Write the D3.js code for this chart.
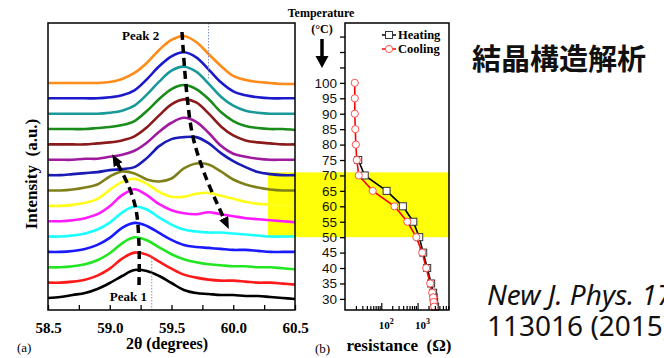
<!DOCTYPE html>
<html>
<head>
<meta charset="utf-8">
<script src="https://cdn.jsdelivr.net/npm/d3@7"></script>
<style>
  body { margin: 0; background: #fff; }
  svg { display: block; }
</style>
</head>
<body>
<div id="plot"></div>
<script>
// (a) XRD scans, one per temperature, 2θ from 58.5 to 60.5 in steps of 0.1
const twoTheta = [58.5,58.6,58.7,58.8,58.9,59.0,59.1,59.2,59.3,59.4,59.5,59.6,59.7,59.8,59.9,60.0,60.1,60.2,60.3,60.4,60.5];
const temps = [30,35,40,45,50,55,60,65,70,75,80,85,90,95,100];
const int30  = [0,1,3,5,9,15,22,28,27,22,15,8,5,4,3,3,2,2,1,0,-1];
const int35  = [0,0,1,3,7,14,24,30,28,21,14,8,5,3,2,2,1,0,0,-1,-2];
const int40  = [0,0,1,3,7,14,24,30,27,20,13,8,5,3,2,1,1,0,0,-1,-2];
const int45  = [0,0,1,3,7,14,24,29,26,19,12,7,5,4,3,2,2,1,0,0,0];
const int50  = [0,0,1,3,7,14,24,30,27,19,12,7,5,4,4,3,2,1,0,0,0];
const int55  = [0,0,1,3,7,15,26,32,26,17,11,8,7,9,7,5,3,2,1,0,-1];
const int60  = [0,0,1,3,7,16,24,27,22,14,9,9,12,13,10,7,4,2,1,0,0];
const int65  = [0,0,1,3,6,14,19,17,11,9,12,22,27,26,19,11,6,3,1,0,0];
const int70  = [0,0,1,2,3,5,6,8,17,29,36,38,38,32,22,14,8,3,1,0,0];
const int75  = [0,0,0,1,1,3,5,9,17,28,37,42,38,27,14,6,3,1,0,0,0];
const int80  = [0,0,0,0,1,2,4,8,17,29,40,45,42,31,18,9,4,2,1,0,0];
const int85  = [0,0,0,0,1,2,4,8,18,30,40,44,40,30,17,8,3,1,0,0,-1];
const int90  = [0,0,0,0,0,1,3,8,19,32,43,47,42,30,17,8,3,1,0,0,0];
const int95  = [0,0,0,0,0,1,3,8,19,32,42,46,41,29,16,7,3,1,0,0,0];
const int100 = [0,0,0,0,0,1,4,10,20,33,43,47,41,29,17,7,3,1,0,-1,-1];
const scans = [int30,int35,int40,int45,int50,int55,int60,int65,int70,int75,int80,int85,int90,int95,int100];
const scanColors = ["#000000","#ff1a1a","#22e622","#1a1aff","#1affff","#ff1aff","#ffff1a","#80801a",
                    "#1a1ab4","#a01aa0","#8b1a1a","#1a8c1a","#1a9999","#1a1acc","#ff8c1a"];

// peak-shift guides (2θ, a.u.)
const peak1Guide = [[59.237,25],[59.237,65],[59.213,100],[59.156,123],[59.06,147]];
const peak2Guide = [[59.585,278],[59.625,215],[59.674,173],[59.771,135],[59.93,90]];

// (b) resistance vs temperature
const heatT = [27.5,29,30.5,32,35,40,45,50,55,60,65,70,75];
const heatR = [3050,2870,2780,2690,2368,1842,1430,1112,764,394,140,35,23.2];
const coolT = [100,95,90,85,80,75,70,65,60,55,50,45,40,35,32,30.5,29,27.5];
const coolR = [18.6,18.6,18.6,19.2,19.9,21.1,24,58,231,523,921,1343,1730,2224,2525,2690,2780,2870];

const xTickLabels = ["58.5","59.0","59.5","60.0","60.5"];
const xMinorTicks = [58.75,59.25,59.75,60.25];
const tempTicks = [30,35,40,45,50,55,60,65,70,75,80,85,90,95,100,105,110,115];
const tempLabels = [30,35,40,45,50,55,60,65,70,75,80,85,90,95,100];
const rMajor = [100,1000];
const rMinor = [20,30,40,50,60,70,80,90,200,300,400,500,600,700,800,900,2000,3000,4000,5000,6000,7000];
const band = [50,71];

const width = 664, height = 358;
const serif = "'Liberation Serif','Times New Roman',serif";
const sans = "'Liberation Sans',Arial,sans-serif";

const svg = d3.select("#plot").append("svg")
  .attr("width", width)
  .attr("height", height);

const defs = svg.append("defs");
defs.append("marker")
  .attr("id", "head")
  .attr("markerUnits", "userSpaceOnUse")
  .attr("markerWidth", 14).attr("markerHeight", 12)
  .attr("refX", 2).attr("refY", 5)
  .attr("orient", "auto")
  .append("path").attr("d", "M0,0 L12,5 L0,10 Z").attr("fill", "#000");
defs.append("marker")
  .attr("id", "bighead")
  .attr("markerUnits", "userSpaceOnUse")
  .attr("markerWidth", 14).attr("markerHeight", 14)
  .attr("refX", 1).attr("refY", 6.5)
  .attr("orient", "auto")
  .append("path").attr("d", "M0,0 L12,6.5 L0,13 Z").attr("fill", "#000");
defs.append("clipPath").attr("id", "clipA")
  .append("rect").attr("x", 48).attr("y", 23).attr("width", 247).attr("height", 287);

// scales
const xA = d3.scaleLinear().domain([58.5, 60.5]).range([48, 295]);
const yA = d3.scaleLinear().domain([0, 287]).range([310, 23]);
const yT = d3.scaleLinear().domain([26.4, 119.4]).range([310, 23]);
const xR = d3.scaleLog().domain([10, 7350]).range([345, 449]);

// yellow transition band
svg.append("rect")
  .attr("x", xA(60.28))
  .attr("y", yT(band[1]))
  .attr("width", xR.range()[1] - xA(60.28))
  .attr("height", yT(band[0]) - yT(band[1]))
  .attr("fill", "#ffff0a");

// ---- panel (a)
const offset = i => 12 + i * 15.36;
const gA = svg.append("g").attr("clip-path", "url(#clipA)");

gA.selectAll("path.scan")
  .data(scans)
  .join("path")
  .attr("class", "scan")
  .attr("fill", "none")
  .attr("stroke", (d, i) => scanColors[i])
  .attr("stroke-width", 2.6)
  .attr("d", (d, i) => d3.line()
    .x((v, j) => xA(twoTheta[j]))
    .y(v => yA(v + offset(i)))
    .curve(d3.curveCatmullRom.alpha(0.5))(d));

// dotted reference lines
gA.append("line")
  .attr("x1", xA(59.80)).attr("x2", xA(59.80))
  .attr("y1", yA(287)).attr("y2", yA(230))
  .attr("stroke", "#8890b8").attr("stroke-width", 1).attr("stroke-dasharray", "1.5,1.5");
gA.append("line")
  .attr("x1", xA(59.34)).attr("x2", xA(59.34))
  .attr("y1", yA(55)).attr("y2", yA(0))
  .attr("stroke", "#8890b8").attr("stroke-width", 1).attr("stroke-dasharray", "1.5,1.5");

const guide = d3.line()
  .x(d => xA(d[0]))
  .y(d => yA(d[1]))
  .curve(d3.curveCatmullRom.alpha(0.5));

[peak1Guide, peak2Guide].forEach(p => {
  svg.append("path")
    .attr("d", guide(p))
    .attr("fill", "none")
    .attr("stroke", "#000")
    .attr("stroke-width", 3.5)
    .attr("stroke-dasharray", "8,5")
    .attr("marker-end", "url(#head)");
});

svg.append("text")
  .attr("x", xA(59.1)).attr("y", yA(270))
  .attr("font-family", serif).attr("font-weight", "bold").attr("font-size", 13)
  .text("Peak 2");
svg.append("text")
  .attr("x", xA(59.0)).attr("y", yA(9))
  .attr("font-family", serif).attr("font-weight", "bold").attr("font-size", 13)
  .text("Peak 1");

// frame and axis (a)
svg.append("rect")
  .attr("x", 48).attr("y", 23).attr("width", 247).attr("height", 287)
  .attr("fill", "none").attr("stroke", "#000").attr("stroke-width", 1.5);

const axA = svg.append("g")
  .attr("transform", "translate(0,310)")
  .call(d3.axisBottom(xA)
    .tickValues(xTickLabels.map(Number).concat(xMinorTicks))
    .tickSizeInner(-5).tickSizeOuter(0).tickPadding(12)
    .tickFormat(d => xTickLabels.includes(d.toFixed(1)) && xMinorTicks.indexOf(d) < 0 ? d.toFixed(1) : ""));
axA.select(".domain").remove();
axA.selectAll("line").attr("stroke-width", 1.3);
axA.selectAll("text")
  .attr("font-family", serif).attr("font-weight", "bold").attr("font-size", 15).attr("fill", "#000");

svg.append("text")
  .attr("x", 167).attr("y", 349)
  .attr("text-anchor", "middle")
  .attr("font-family", serif).attr("font-weight", "bold").attr("font-size", 16)
  .text("2θ (degrees)");
svg.append("text")
  .attr("transform", "translate(37,174) rotate(-90)")
  .attr("text-anchor", "middle")
  .attr("font-family", serif).attr("font-weight", "bold").attr("font-size", 17)
  .attr("xml:space", "preserve")
  .text("Intensity  (a.u.)");
svg.append("text")
  .attr("x", 17).attr("y", 352)
  .attr("font-family", serif).attr("font-size", 13)
  .text("(a)");

// ---- panel (b)
const line = d3.line().x(d => xR(d[1])).y(d => yT(d[0]));
const heat = heatT.map((t, i) => [t, heatR[i]]);
const cool = coolT.map((t, i) => [t, coolR[i]]);

svg.append("path").attr("d", line(heat))
  .attr("fill", "none").attr("stroke", "#000").attr("stroke-width", 1.6);
svg.append("path").attr("d", line(cool))
  .attr("fill", "none").attr("stroke", "#ff0000").attr("stroke-width", 1.6);

svg.selectAll("rect.heat")
  .data(heat)
  .join("rect")
  .attr("class", "heat")
  .attr("x", d => xR(d[1]) - 3.5).attr("y", d => yT(d[0]) - 3.5)
  .attr("width", 7).attr("height", 7)
  .attr("fill", "#fff").attr("stroke", "#333").attr("stroke-width", 1);
svg.selectAll("circle.cool")
  .data(cool)
  .join("circle")
  .attr("class", "cool")
  .attr("cx", d => xR(d[1])).attr("cy", d => yT(d[0]))
  .attr("r", 3.6)
  .attr("fill", "#fff").attr("stroke", "#ff5050").attr("stroke-width", 1);

svg.append("rect")
  .attr("x", 345).attr("y", 23).attr("width", 104).attr("height", 287)
  .attr("fill", "none").attr("stroke", "#000").attr("stroke-width", 1.5);

const axT = svg.append("g")
  .attr("transform", "translate(345,0)")
  .call(d3.axisLeft(yT)
    .tickValues(tempTicks)
    .tickSize(5).tickPadding(3)
    .tickFormat(d => tempLabels.includes(d) ? d : ""));
axT.select(".domain").remove();
axT.selectAll("line").attr("stroke-width", 1.3);
axT.selectAll("text")
  .attr("font-family", sans).attr("font-size", 13.5).attr("fill", "#111");

const axR = svg.append("g")
  .attr("transform", "translate(0,310)")
  .call(d3.axisBottom(xR)
    .tickValues(rMajor.concat(rMinor))
    .tickSizeOuter(0)
    .tickFormat(""));
axR.select(".domain").remove();
axR.selectAll("line")
  .attr("y2", d => rMajor.includes(d) ? -7 : -4)
  .attr("stroke-width", 1.2);

rMajor.forEach(r => {
  const t = svg.append("text")
    .attr("x", xR(r) + 5).attr("y", 329)
    .attr("text-anchor", "middle")
    .attr("font-family", serif).attr("font-weight", "bold").attr("font-size", 11);
  t.append("tspan").text("10");
  t.append("tspan").attr("dy", -5).attr("font-size", 8).text(Math.round(Math.log10(r)));
});

svg.append("text")
  .attr("x", 399).attr("y", 351)
  .attr("text-anchor", "middle")
  .attr("font-family", serif).attr("font-weight", "bold").attr("font-size", 17)
  .attr("xml:space", "preserve")
  .text("resistance  (Ω)");
svg.append("text")
  .attr("x", 315).attr("y", 353)
  .attr("font-family", serif).attr("font-size", 13)
  .text("(b)");

// temperature header with arrow
svg.append("text")
  .attr("x", 321).attr("y", 17)
  .attr("text-anchor", "middle")
  .attr("font-family", serif).attr("font-weight", "bold").attr("font-size", 12)
  .text("Temperature");
svg.append("text")
  .attr("x", 322).attr("y", 33)
  .attr("text-anchor", "middle")
  .attr("font-family", serif).attr("font-weight", "bold").attr("font-size", 12)
  .text("(°C)");
svg.append("line")
  .attr("x1", 322).attr("x2", 322).attr("y1", 39).attr("y2", 57)
  .attr("stroke", "#000").attr("stroke-width", 3.5)
  .attr("marker-end", "url(#bighead)");

// legend
const legend = [
  { label: "Heating", color: "#000", shape: "square" },
  { label: "Cooling", color: "#ff0000", shape: "circle" }
];
const lg = svg.selectAll("g.legend")
  .data(legend)
  .join("g")
  .attr("class", "legend")
  .attr("transform", (d, i) => `translate(382,${35 + i * 14})`);
lg.append("line")
  .attr("x1", 0).attr("x2", 14)
  .attr("stroke", d => d.color).attr("stroke-width", 1.5);
lg.filter(d => d.shape === "square").append("rect")
  .attr("x", 3.5).attr("y", -3.5).attr("width", 7).attr("height", 7)
  .attr("fill", "#fff").attr("stroke", "#333");
lg.filter(d => d.shape === "circle").append("circle")
  .attr("cx", 7).attr("r", 3.6)
  .attr("fill", "#fff").attr("stroke", "#ff5050");
lg.append("text")
  .attr("x", 16).attr("dy", "0.35em")
  .attr("font-family", serif).attr("font-weight", "bold").attr("font-size", 12.5)
  .text(d => d.label);

// slide text
svg.append("text")
  .attr("x", 472).attr("y", 70)
  .attr("font-family", "'Noto Sans CJK JP','Noto Sans CJK SC',sans-serif")
  .attr("font-weight", "bold").attr("font-size", 29)
  .attr("fill", "#111")
  .text("結晶構造解析");
svg.append("text")
  .attr("x", 487).attr("y", 305)
  .attr("font-family", "'Noto Sans',sans-serif")
  .attr("font-style", "italic").attr("font-size", 28)
  .attr("fill", "#111")
  .text("New J. Phys. 17");
svg.append("text")
  .attr("x", 487).attr("y", 336)
  .attr("font-family", "'Noto Sans',sans-serif")
  .attr("font-size", 28)
  .attr("fill", "#111")
  .text("113016 (2015)");
</script>
</body>
</html>
